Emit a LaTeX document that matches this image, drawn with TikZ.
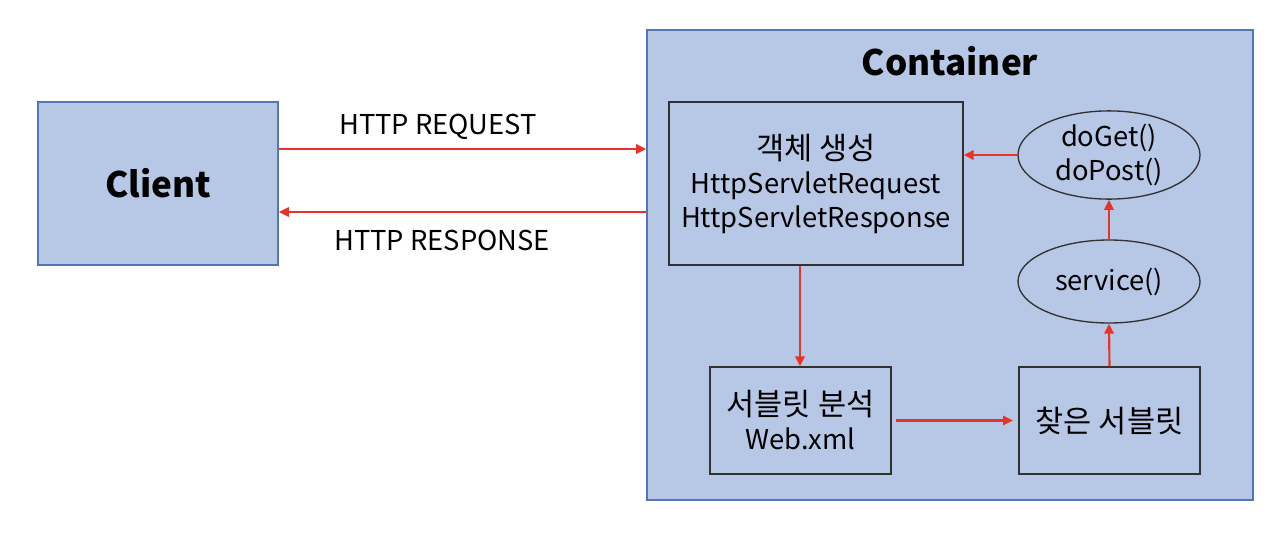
\documentclass[tikz,border=0pt]{standalone}
\usepackage{fontspec}
\setmainfont{Noto Sans CJK KR}
\newfontfamily\kr[Scale=1.12]{Noto Sans CJK KR}
\usetikzlibrary{arrows.meta,shapes.geometric}
\definecolor{boxfill}{RGB}{183,199,230}
\definecolor{outerline}{RGB}{84,118,180}
\definecolor{arrowred}{RGB}{232,52,40}
\definecolor{innerline}{RGB}{50,50,50}
\tikzset{
  outerbox/.style={draw=outerline,fill=boxfill,line width=1.2pt,inner sep=0pt},
  innerbox/.style={draw=innerline,fill=boxfill,line width=1pt,inner sep=0pt,align=center,
    font=\fontsize{20.5}{25.5}\selectfont},
  oval/.style={ellipse,draw=innerline,fill=boxfill,line width=1pt,inner sep=0pt,align=center,
    font=\fontsize{20.5}{26}\selectfont},
  redarrow/.style={draw=arrowred,line width=1.6pt,-{Triangle[length=7.5pt,width=7pt]}},
  lbl/.style={font=\fontsize{20.5}{24}\selectfont,inner sep=0pt}
}
\begin{document}
\begin{tikzpicture}[x=0.75pt,y=-0.75pt]
\useasboundingbox (0,0) rectangle (1286,540);
% outer boxes
\node[outerbox,minimum width=240*0.75pt,minimum height=163*0.75pt,font=\fontsize{26.3}{30}\selectfont\bfseries] (client) at (158,183.5) {Client};
\node[outerbox,minimum width=606*0.75pt,minimum height=470*0.75pt] (container) at (950,265) {};
\node[font=\fontsize{26.3}{30}\selectfont\bfseries,inner sep=0pt] (ctitle) at (950,61) {Container};
% inner boxes
\node[innerbox,minimum width=294*0.75pt,minimum height=163*0.75pt] (create) at (816,183.5) {{\kr 객체 생성}\\HttpServletRequest\\HttpServletResponse};
\node[innerbox,minimum width=181*0.75pt,minimum height=107*0.75pt] (parse) at (800.5,420.5) {{\kr 서블릿 분석}\\Web.xml};
\node[innerbox,minimum width=181*0.75pt,minimum height=107*0.75pt] (found) at (1109.5,420.5) {{\kr 찾은 서블릿}};
\node[oval,minimum width=182*0.75pt,minimum height=74*0.75pt] (doget) at (1109,155) {doGet()\\doPost()};
\node[oval,minimum width=182*0.75pt,minimum height=83*0.75pt] (service) at (1109,281.5) {service()};
% connectors
\coordinate (reqS) at (client.east |- 0,149);
\coordinate (reqE) at (container.west |- 0,149);
\coordinate (resS) at (container.west |- 0,212);
\coordinate (resE) at (client.east |- 0,212);
\draw[redarrow] (reqS) -- (reqE);
\draw[redarrow] (resS) -- (resE);
\node[lbl] (reqlbl) at (438,127) {HTTP REQUEST};
\node[lbl] (reslbl) at (442,240) {HTTP RESPONSE};
\draw[redarrow] (doget.west) -- (create.east |- doget.west);
\draw[redarrow] (create.south -| 800,0) -- (parse.north -| 800,0);
\draw[redarrow] ([xshift=3pt]parse.east) -- ([xshift=-4pt]found.west);
\draw[redarrow] (found.north) -- (service.south);
\draw[redarrow] (service.north) -- (doget.south);
\end{tikzpicture}
\end{document}
